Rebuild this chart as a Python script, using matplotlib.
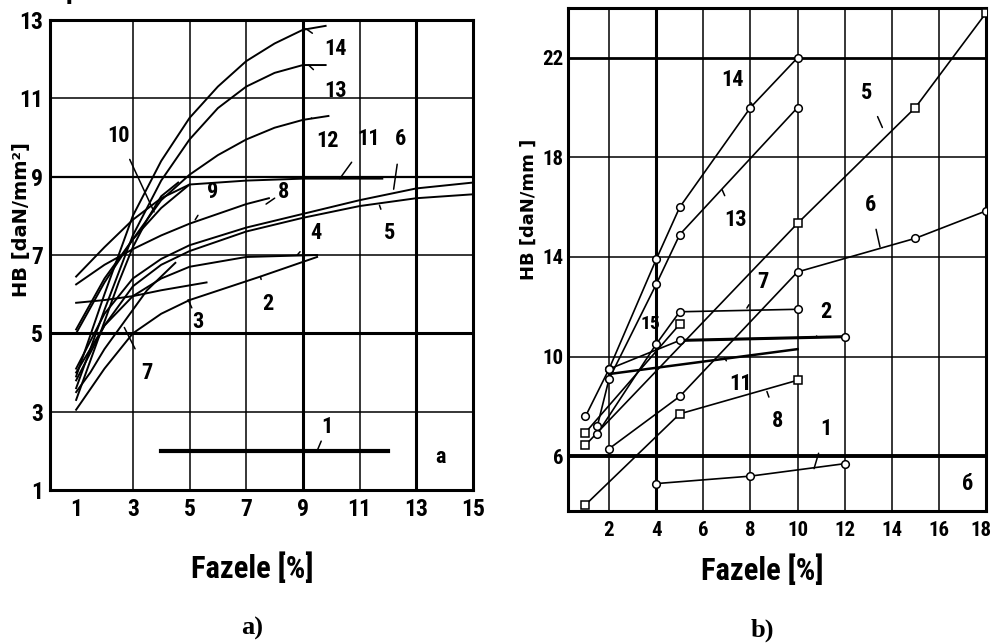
import matplotlib.pyplot as plt
import matplotlib.transforms as mtransforms
from matplotlib import font_manager

installed = {f.name for f in font_manager.fontManager.ttflist}
narrow = 'DejaVu Sans'
for cand in ['Liberation Sans Narrow', 'DejaVu Sans Condensed', 'Noto Sans Condensed',
             'Roboto Condensed', 'Open Sans Condensed', 'Arial Narrow']:
    if cand in installed:
        narrow = cand
        break

# ---- a) HB vs phase content, curves 1..14
a1_x = [4, 12]
a1_y = [2.0, 2.0]
a2_x = [1, 2, 3, 4, 5, 7.5, 9.5]
a2_y = [3.05, 4.1, 5.0, 5.5, 5.85, 6.45, 6.95]
a3_x = [1, 2, 3, 4, 5.6]
a3_y = [5.78, 5.85, 5.95, 6.1, 6.3]
a4_x = [1, 2, 3, 4, 5, 7, 9.5]
a4_y = [4.0, 5.2, 5.95, 6.4, 6.7, 6.95, 7.0]
a5_x = [1, 2, 3, 4, 5, 7, 9, 11, 13, 15]
a5_y = [3.8, 5.2, 6.2, 6.75, 7.1, 7.6, 7.95, 8.25, 8.45, 8.55]
a6_x = [1, 2, 3, 4, 5, 7, 9, 11, 13, 15]
a6_y = [4.1, 5.5, 6.4, 6.9, 7.25, 7.7, 8.05, 8.4, 8.7, 8.85]
a7_x = [1, 1.5, 2, 2.5, 3, 3.5, 4.5]
a7_y = [3.5, 4.0, 4.6, 5.1, 5.6, 6.1, 6.8]
a8_x = [1, 2, 3, 4, 5, 6, 7, 7.8]
a8_y = [6.25, 6.75, 7.15, 7.5, 7.8, 8.05, 8.3, 8.45]
a9_x = [1, 2, 3, 4, 5]
a9_y = [5.1, 6.4, 7.4, 8.2, 8.8]
a10_x = [1, 1.5, 2, 2.5, 3, 3.5, 4, 4.6]
a10_y = [3.3, 4.3, 5.3, 6.3, 7.2, 7.9, 8.5, 8.85]
a11_x = [1, 2, 3, 4, 5, 7, 9, 11, 11.8]
a11_y = [6.45, 7.2, 7.9, 8.45, 8.8, 8.9, 8.95, 8.95, 8.95]
a12_x = [1, 2, 3, 4, 5, 6, 7, 8, 9, 9.9]
a12_y = [5.0, 6.3, 7.4, 8.4, 9.05, 9.55, 9.95, 10.25, 10.45, 10.55]
a13_x = [1, 2, 3, 4, 5, 6, 7, 8, 9, 9.8]
a13_y = [3.6, 5.6, 7.5, 8.9, 9.95, 10.75, 11.3, 11.65, 11.85, 11.85]
a14_x = [1, 2, 3, 4, 5, 6, 7, 8, 9, 9.8]
a14_y = [3.9, 6.0, 8.0, 9.4, 10.5, 11.3, 11.95, 12.4, 12.75, 12.85]

# ---- b) HB vs phase content, measured points
b1_x = [4, 8, 12]
b1_y = [4.9, 5.2, 5.7]
b2_x = [2, 5, 12]
b2_y = [9.5, 10.65, 10.8]
b5_x = [1, 10, 15, 18]
b5_y = [6.45, 15.35, 20.0, 23.8]
b6_x = [2, 5, 10, 15, 18]
b6_y = [6.3, 8.4, 13.4, 14.75, 15.85]
b7_x = [1.5, 4, 5, 10]
b7_y = [6.9, 10.5, 11.8, 11.9]
b8_x = [1, 5, 10]
b8_y = [4.05, 7.7, 9.05]
b9_x = [1, 5]
b9_y = [6.95, 11.3]
b11_x = [2, 10]
b11_y = [9.3, 10.3]
b13_x = [1.5, 2, 4, 5, 10]
b13_y = [7.2, 9.1, 12.9, 14.9, 20.0]
b14_x = [1, 2, 4, 5, 8, 10]
b14_y = [7.6, 9.5, 13.9, 16.0, 20.0, 22.0]

a_ticks_x = [1, 3, 5, 7, 9, 11, 13, 15]
a_ticks_y = [1, 3, 5, 7, 9, 11, 13]
b_ticks_x = [2, 4, 6, 8, 10, 12, 14, 16, 18]
b_ticks_y = [6, 10, 14, 18, 22]

fig = plt.figure(figsize=(9.95, 6.43), dpi=100)
ax1 = fig.add_axes([0.0503, 0.2379, 0.4251, 0.7310])
ax2 = fig.add_axes([0.5709, 0.2053, 0.4201, 0.7823])

lab = dict(fontfamily=narrow, fontstretch='condensed', fontweight='bold',
           fontsize=16, color='black')


def frame(ax, size):
    for s in ax.spines.values():
        s.set_linewidth(2.2)
        s.set_color('black')
    ax.tick_params(length=0)
    for t in ax.get_xticklabels() + ax.get_yticklabels():
        t.set_fontfamily(narrow)
        t.set_fontstretch('condensed')
        t.set_fontweight('bold')
        t.set_fontsize(size)


def tag(ax, text, xy, xytext, **kw):
    ax.annotate(text, xy=xy, xytext=xytext, ha='center', va='center',
                arrowprops=dict(arrowstyle='-', color='black', lw=1.1,
                                shrinkA=8, shrinkB=0), **{**lab, **kw})


# ---------------- panel a
ax1.set_xlim(0.08, 15)
ax1.set_ylim(1, 13)
for gx in [3, 5, 7, 11]:
    ax1.axvline(gx, color='black', lw=1.1, zorder=1)
for gx in [9, 13]:
    ax1.axvline(gx, color='black', lw=2.2, zorder=1)
for gy in [3, 7, 11]:
    ax1.axhline(gy, color='black', lw=1.1, zorder=1)
ax1.axhline(5, color='black', lw=2.2, zorder=1)
ax1.axhline(9, color='black', lw=1.6, zorder=1)

curves_a = [(a2_x, a2_y), (a3_x, a3_y), (a4_x, a4_y), (a5_x, a5_y),
            (a6_x, a6_y), (a7_x, a7_y), (a8_x, a8_y), (a9_x, a9_y),
            (a10_x, a10_y), (a11_x, a11_y), (a12_x, a12_y),
            (a13_x, a13_y), (a14_x, a14_y)]
for cx, cy in curves_a:
    ax1.plot(cx, cy, color='black', lw=1.4, zorder=3)
ax1.plot(a1_x, a1_y, color='black', lw=3, zorder=3)

ax1.set_xticks(a_ticks_x)
ax1.set_yticks(a_ticks_y)
ax1.set_xticklabels([str(v) for v in a_ticks_x])
ax1.set_yticklabels([str(v) for v in a_ticks_y])
ax1.tick_params(axis='x', pad=6)
ax1.tick_params(axis='y', pad=5)
frame(ax1, 17)

tag(ax1, '14', (9.1, 12.78), (10.15, 12.25))
tag(ax1, '13', (9.2, 11.85), (10.15, 11.2))
tag(ax1, '12', (9.3, 10.5), (9.85, 9.9))
tag(ax1, '11', (10.3, 8.95), (11.3, 9.95))
tag(ax1, '6', (12.2, 8.68), (12.45, 9.95))
tag(ax1, '5', (11.7, 8.27), (12.05, 7.55))
tag(ax1, '4', (8.8, 7.0), (9.45, 7.55))
tag(ax1, '2', (7.5, 6.45), (7.75, 5.75))
tag(ax1, '3', (4.95, 5.86), (5.3, 5.3))
tag(ax1, '7', (2.7, 5.15), (3.5, 4.0))
tag(ax1, '10', (3.75, 8.1), (2.5, 10.05))
tag(ax1, '9', (5.2, 7.9), (5.8, 8.6))
tag(ax1, '8', (7.7, 8.3), (8.3, 8.6))
tag(ax1, '1', (9.5, 2.0), (9.85, 2.6))
ax1.text(13.85, 1.85, 'а', ha='center', va='center', **lab)

ax1.set_ylabel('HB [daN/mm²]', fontfamily='DejaVu Sans', fontweight='bold',
               fontsize=14)
ax1.yaxis.set_label_coords(-0.045, 0.575)
fig.text(252 / 995, 1 - 568 / 643, 'Fazele [%]', ha='center', va='center',
         fontfamily=narrow, fontstretch='condensed', fontweight='bold',
         fontsize=22)
fig.text(252 / 995, 1 - 628 / 643, 'a)', ha='center', va='center',
         fontfamily='Liberation Serif', fontweight='bold', fontsize=19)

# ---------------- panel b
ax2.set_xlim(0.26, 18)
ax2.set_ylim(3.8, 24)
for gx in [2, 6, 8, 10, 12, 14, 16]:
    ax2.axvline(gx, color='black', lw=1.1, zorder=1)
ax2.axvline(4, color='black', lw=2.2, zorder=1)
for gy in [10, 14, 18]:
    ax2.axhline(gy, color='black', lw=1.1, zorder=1)
ax2.axhline(6, color='black', lw=2.8, zorder=1)
ax2.axhline(22, color='black', lw=2.0, zorder=1)

mk = dict(color='black', lw=1.2, markersize=5.5, markerfacecolor='white',
          markeredgecolor='black', markeredgewidth=1.1, zorder=3)
ax2.plot(b1_x, b1_y, marker='o', **mk)
ax2.plot(b2_x, b2_y, marker='o', **mk)
ax2.plot(b2_x[1:], b2_y[1:], color='black', lw=2.2, zorder=2)
ax2.plot(b5_x, b5_y, marker='s', **mk)
ax2.plot(b6_x, b6_y, marker='o', **mk)
ax2.plot(b7_x, b7_y, marker='o', **mk)
ax2.plot(b8_x, b8_y, marker='s', **mk)
ax2.plot(b9_x, b9_y, marker='s', **mk)
ax2.plot(b11_x, b11_y, color='black', lw=1.8, zorder=3)
ax2.plot(b13_x, b13_y, marker='o', **mk)
ax2.plot(b14_x, b14_y, marker='o', **mk)

ax2.set_xticks(b_ticks_x)
ax2.set_yticks(b_ticks_y)
ax2.set_xticklabels([str(v) for v in b_ticks_x])
ax2.set_yticklabels([str(v) for v in b_ticks_y])
ax2.tick_params(axis='x', pad=7)
ax2.tick_params(axis='y', pad=3)
frame(ax2, 15)
# keep the last tick label inside the figure edge
last = ax2.get_xticklabels()[-1]
last.set_transform(last.get_transform() +
                   mtransforms.ScaledTranslation(-4 / 72, 0, fig.dpi_scale_trans))

tag(ax2, '14', (8.1, 20.1), (7.25, 21.1))
tag(ax2, '13', (6.8, 16.7), (7.35, 15.5))
tag(ax2, '5', (13.6, 19.2), (12.95, 20.6))
tag(ax2, '6', (13.5, 14.4), (13.1, 16.1))
tag(ax2, '7', (7.85, 11.95), (8.55, 13.0))
tag(ax2, '2', (10.8, 10.8), (11.2, 11.8))
tag(ax2, '11', (6.9, 9.95), (7.6, 8.9))
tag(ax2, '8', (8.7, 8.6), (9.15, 7.4))
tag(ax2, '1', (10.7, 5.5), (11.2, 7.1))
ax2.text(3.75, 11.3, '15', ha='center', va='center', **{**lab, 'fontsize': 14})
ax2.text(17.2, 4.9, 'б', ha='center', va='center', **lab)

ax2.set_ylabel('HB [daN/mm ]', fontfamily='DejaVu Sans', fontweight='bold',
               fontsize=13)
ax2.yaxis.set_label_coords(-0.072, 0.6)
fig.text(762 / 995, 1 - 570 / 643, 'Fazele [%]', ha='center', va='center',
         fontfamily=narrow, fontstretch='condensed', fontweight='bold',
         fontsize=22)
fig.text(762 / 995, 1 - 630 / 643, 'b)', ha='center', va='center',
         fontfamily='Liberation Serif', fontweight='bold', fontsize=19)

# caption line running off the top edge
fig.text(0.0, 1 + 2 / 643, 'lare Hp - 1200.', ha='left', va='baseline',
         fontfamily=narrow, fontstretch='condensed', fontweight='bold',
         fontsize=20)

fig.savefig('out.png', dpi=100, facecolor='white')
